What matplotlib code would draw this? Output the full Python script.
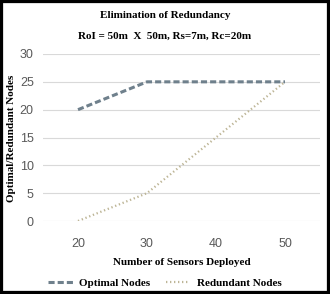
import matplotlib
matplotlib.use("Agg")
import matplotlib.pyplot as plt
from matplotlib.patches import Rectangle

categories = ["20", "30", "40", "50"]
optimal = [20, 25, 25, 25]
redundant = [0, 5, 15, 25]
yticks = [0, 5, 10, 15, 20, 25, 30]

serif = ["Liberation Serif", "DejaVu Serif"]
sans = ["Liberation Sans Narrow", "Liberation Sans", "DejaVu Sans"]

fig = plt.figure(figsize=(3.3, 2.94), dpi=100)
ax = fig.add_axes([43.5/330, 1-221/294, 276/330, 167/294])
x = list(range(1, len(categories)+1))
ax.plot(x, optimal, color="#6f808c", lw=2.2, ls=(0, (2.0, 1.0)), label="Optimal Nodes", solid_capstyle="butt")
ax.plot(x, redundant, color="#bdb596", lw=1.6, ls=(0, (0.6, 1.2)), label="Redundant Nodes")
ax.set_xlim(0.5, 4.5)
ax.set_ylim(0, 30)
ax.set_yticks(yticks)
ax.set_xticks(x)
ax.set_xticklabels(categories)
ax.grid(axis="y", color="#d9d9d9", lw=0.8)
ax.set_axisbelow(True)
for s in ax.spines.values():
    s.set_visible(False)
ax.tick_params(length=0, labelsize=9, labelcolor="#595959", pad=7)
for lab in ax.get_xticklabels() + ax.get_yticklabels():
    lab.set_family(sans)
ax.tick_params(axis="x", pad=12)
ax.set_xlabel("Number of Sensors Deployed", family=serif, fontsize=8, fontweight="bold", labelpad=6)
fig.text(12/330, 1-138/294, "Optimal/Redundant Nodes", rotation=90, ha="center", va="center",
         family=serif, fontsize=8, fontweight="bold")
fig.text(0.5, 1-15/294, "Elimination of Redundancy", ha="center", va="center", family=serif, fontsize=8, fontweight="bold")
fig.text(0.5, 1-36/294, "RoI = 50m  X  50m, Rs=7m, Rc=20m", ha="center", va="center", family=serif, fontsize=8, fontweight="bold")
leg = fig.legend(loc="center", bbox_to_anchor=(0.5, 1-283/294), ncol=2, frameon=False,
                 prop={"family": serif, "size": 8, "weight": "bold"}, handlelength=2.2, columnspacing=1.4,
                 handletextpad=0.6)
fig.patches.append(Rectangle((0, 0), 1, 1, transform=fig.transFigure, fill=False,
                             edgecolor="black", lw=4.5, figure=fig))
fig.savefig("out.png", dpi=100)
